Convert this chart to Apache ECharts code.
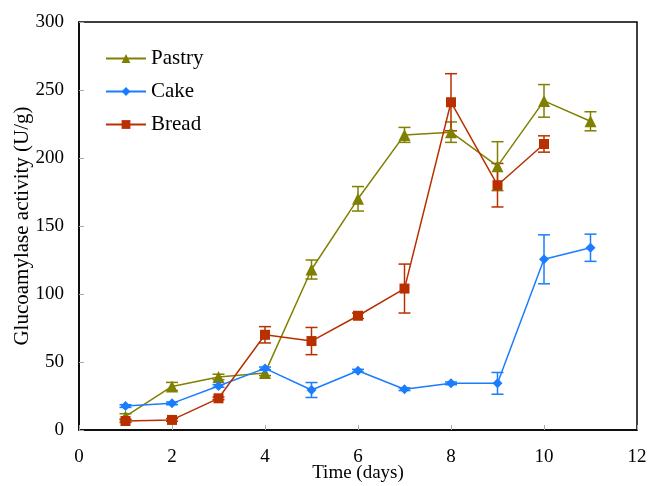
<!DOCTYPE html>
<html><head><meta charset="utf-8">
<script src="https://cdn.jsdelivr.net/npm/echarts@6/dist/echarts.min.js"></script>
<style>html,body{margin:0;padding:0;background:#fff}#c{width:655px;height:486px}</style>
</head><body><div id="c"></div>
<script>
const days = [1,2,3,4,5,6,7,8,9,10,11];
const pastry = [10,32,39,42,118,170,217,219,194,242,227];
const pastryErr = [2,3,2,2,7,9,5.5,7.5,18,12,7];
const cake = [17.6,19.6,32.4,45.3,29.4,43.6,30,34.3,34.3,125.5,134];
const cakeErr = [1,1,1,1,5.5,1,1,1,8,18,10];
const bread = [6.6,7.4,23.3,70,65.4,84,104,241,180,210.3];
const breadErr = [1,1,1,6,10,2,18,21,16,6];
const xTicks = [0,2,4,6,8,10,12];
const yTicks = [0,50,100,150,200,250,300];

const C = {Pastry:'#808000', Cake:'#1a7dff', Bread:'#b83000'};
const font = 'Liberation Serif, Times New Roman, serif';

function pts(vals){ return vals.map((v,i)=>[days[i], v]); }
function errData(vals, errs){ return vals.map((v,i)=>[days[i], v-errs[i], v+errs[i]]); }
function errSeries(name, vals, errs){
  return {
    name: name+' err', type:'custom', z:1,
    data: errData(vals, errs),
    renderItem: function(params, api){
      const x = api.value(0);
      const lo = api.coord([x, api.value(1)]);
      const hi = api.coord([x, api.value(2)]);
      const w = 6;
      const st = {stroke: C[name], lineWidth: 1.5};
      return {type:'group', children:[
        {type:'line', shape:{x1:lo[0], y1:lo[1], x2:hi[0], y2:hi[1]}, style:st},
        {type:'line', shape:{x1:lo[0]-w, y1:lo[1], x2:lo[0]+w, y2:lo[1]}, style:st},
        {type:'line', shape:{x1:hi[0]-w, y1:hi[1], x2:hi[0]+w, y2:hi[1]}, style:st}
      ]};
    }
  };
}
function lineSeries(name, vals, symbol, size){
  return {name:name, type:'line', z:3, data: pts(vals), symbol:symbol, symbolSize:size,
    lineStyle:{color:C[name], width:1.5}, itemStyle:{color:C[name]}};
}

const chart = echarts.init(document.getElementById('c'), null, {renderer:'canvas'});
chart.setOption({
  animation:false,
  backgroundColor:'#fff',
  grid:{left:79, right:18, top:22, bottom:56, show:true, borderColor:'#000', borderWidth:1.5,
    containLabel:false, outerBoundsMode:'none'},
  legend:{
    data:['Pastry','Cake','Bread'], orient:'vertical', left:100, top:43,
    itemWidth:40, itemHeight:11, itemGap:12,
    textStyle:{fontFamily:font, fontSize:21, color:'#000', padding:[0,0,0,0]}
  },
  xAxis:{type:'value', min:0, max:12, interval:2,
    name:'Time (days)', nameLocation:'middle', nameGap:34, nameMoveOverlap:false,
    nameTextStyle:{fontFamily:font, fontSize:19, color:'#000'},
    axisLine:{lineStyle:{color:'#000', width:1.5}},
    axisTick:{inside:true, length:5, lineStyle:{color:'#aaa'}},
    axisLabel:{fontFamily:font, fontSize:19, color:'#000', margin:18},
    splitLine:{show:false}},
  yAxis:{type:'value', min:0, max:300, interval:50,
    name:'Glucoamylase activity (U/g)', nameLocation:'middle', nameGap:46, nameMoveOverlap:false,
    nameTextStyle:{fontFamily:font, fontSize:21, color:'#000'},
    axisLine:{show:true, lineStyle:{color:'#000', width:1.5}},
    axisTick:{show:true, inside:true, length:5, lineStyle:{color:'#aaa'}},
    axisLabel:{fontFamily:font, fontSize:19, color:'#000', margin:15},
    splitLine:{show:false}},
  series:[
    errSeries('Pastry', pastry, pastryErr),
    errSeries('Cake', cake, cakeErr),
    errSeries('Bread', bread, breadErr),
    lineSeries('Pastry', pastry, 'triangle', 12),
    lineSeries('Cake', cake, 'diamond', 10),
    lineSeries('Bread', bread, 'rect', 10)
  ]
});
</script></body></html>
